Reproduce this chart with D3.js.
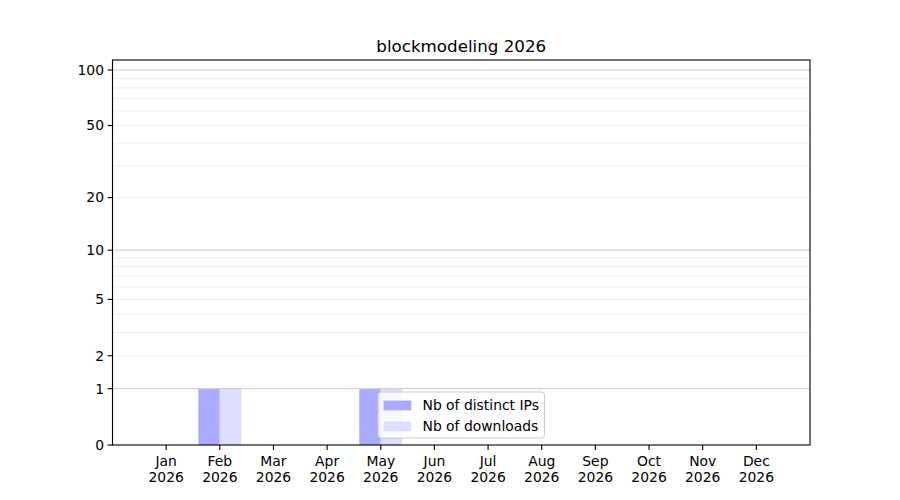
<!DOCTYPE html>
<html lang="en">
<head>
  <meta charset="UTF-8">
  <title>blockmodeling 2026</title>
  <script src="https://d3js.org/d3.v7.min.js"></script>
  <style>
    body { margin: 0; background: #fff; }
    svg { display: block; font-family: "DejaVu Sans", sans-serif; }
  </style>
</head>
<body>
  <script>
    // data
    const months = ["Jan", "Feb", "Mar", "Apr", "May", "Jun", "Jul", "Aug", "Sep", "Oct", "Nov", "Dec"];
    const year = "2026";
    const distinctIPs = [0, 1, 0, 0, 1, 0, 0, 0, 0, 0, 0, 0];
    const downloads = [0, 1, 0, 0, 1, 0, 0, 0, 0, 0, 0, 0];
    const yTicks = [0, 1, 2, 5, 10, 20, 50, 100];
    const minorTicks = [2, 3, 4, 5, 6, 7, 8, 9, 20, 30, 40, 50, 60, 70, 80, 90];
    const majorGrid = [1, 10, 100];
    const seriesNames = ["Nb of distinct IPs", "Nb of downloads"];
    const colors = ["#aaaaff", "#ddddff"];

    const W = 900, H = 500;
    const axLeft = 112.5, axRight = 810, axTop = 60, axBottom = 445;
    const fs = 13.9;

    const svg = d3.select("body").append("svg")
      .attr("width", W).attr("height", H);

    const x = d3.scaleLinear().domain([-1, 12]).range([axLeft, axRight]);
    // y axis is log10(v + 1)
    const t = d3.scaleLinear().domain([0, 2.0577]).range([axBottom, axTop]);
    const y = v => t(Math.log10(v + 1));

    // bars
    const bw = 0.4;
    svg.append("g").selectAll("rect")
      .data(distinctIPs.map((v, i) => ({ v, i })))
      .join("rect")
      .attr("x", d => x(d.i - bw))
      .attr("width", x(bw) - x(0))
      .attr("y", d => y(d.v))
      .attr("height", d => y(0) - y(d.v))
      .attr("fill", colors[0]);

    svg.append("g").selectAll("rect")
      .data(downloads.map((v, i) => ({ v, i })))
      .join("rect")
      .attr("x", d => x(d.i))
      .attr("width", x(bw) - x(0))
      .attr("y", d => y(d.v))
      .attr("height", d => y(0) - y(d.v))
      .attr("fill", colors[1]);

    // grid
    svg.append("g").selectAll("line")
      .data(minorTicks)
      .join("line")
      .attr("x1", axLeft).attr("x2", axRight)
      .attr("y1", d => y(d)).attr("y2", d => y(d))
      .attr("stroke", "#ebebeb").attr("stroke-width", 0.8);

    svg.append("g").selectAll("line")
      .data(majorGrid)
      .join("line")
      .attr("x1", axLeft).attr("x2", axRight)
      .attr("y1", d => y(d)).attr("y2", d => y(d))
      .attr("stroke", "#cccccc").attr("stroke-width", 1);

    // frame
    svg.append("rect")
      .attr("x", axLeft).attr("y", axTop)
      .attr("width", axRight - axLeft).attr("height", axBottom - axTop)
      .attr("fill", "none").attr("stroke", "#000").attr("stroke-width", 1.1);

    // y ticks
    const yt = svg.append("g").selectAll("g")
      .data(yTicks)
      .join("g")
      .attr("transform", d => `translate(${axLeft},${y(d)})`);
    yt.append("line").attr("x1", 0).attr("x2", -4.9).attr("stroke", "#000").attr("stroke-width", 1.1);
    yt.append("text")
      .attr("x", -8.5).attr("dy", "0.35em")
      .attr("text-anchor", "end")
      .attr("font-size", fs)
      .text(d => d);

    // x ticks
    const xt = svg.append("g").selectAll("g")
      .data(months)
      .join("g")
      .attr("transform", (d, i) => `translate(${x(i)},${axBottom})`);
    xt.append("line").attr("y1", 0).attr("y2", 4.9).attr("stroke", "#000").attr("stroke-width", 1.1);
    xt.append("text")
      .attr("y", 21).attr("text-anchor", "middle").attr("font-size", fs)
      .text(d => d);
    xt.append("text")
      .attr("y", 37).attr("text-anchor", "middle").attr("font-size", fs)
      .text(year);

    // title
    svg.append("text")
      .attr("x", (axLeft + axRight) / 2).attr("y", 52)
      .attr("text-anchor", "middle")
      .attr("font-size", 16.7)
      .text("blockmodeling " + year);

    // legend, lower center
    const lg = svg.append("g");
    const box = lg.append("rect");
    const labels = lg.selectAll("text")
      .data(seriesNames)
      .join("text")
      .attr("font-size", fs)
      .text(d => d);
    const tw = d3.max(labels.nodes(), n => n.getComputedTextLength());
    const pad = 0.4 * fs, hl = 2 * fs, htp = 0.8 * fs, rowH = 14, gap = 0.5 * fs;
    const lw = pad * 2 + hl + htp + tw;
    const lh = pad * 2 + rowH * 2 + gap;
    const lx = (axLeft + axRight) / 2 - lw / 2;
    const ly = axBottom - 0.5 * fs - lh;
    box.attr("x", lx).attr("y", ly).attr("width", lw).attr("height", lh)
      .attr("rx", 3).attr("fill", "#fff").attr("fill-opacity", 0.8)
      .attr("stroke", "#cccccc").attr("stroke-width", 1);
    seriesNames.forEach((s, i) => {
      const cy = ly + pad + rowH / 2 + i * (rowH + gap) + 1;
      lg.append("rect")
        .attr("x", lx + pad).attr("y", cy - 4.9)
        .attr("width", hl).attr("height", 9.7)
        .attr("fill", colors[i]);
    });
    labels
      .attr("x", lx + pad + hl + htp)
      .attr("y", (d, i) => ly + pad + rowH / 2 + i * (rowH + gap) + 1)
      .attr("dy", "0.35em");
  </script>
</body>
</html>
